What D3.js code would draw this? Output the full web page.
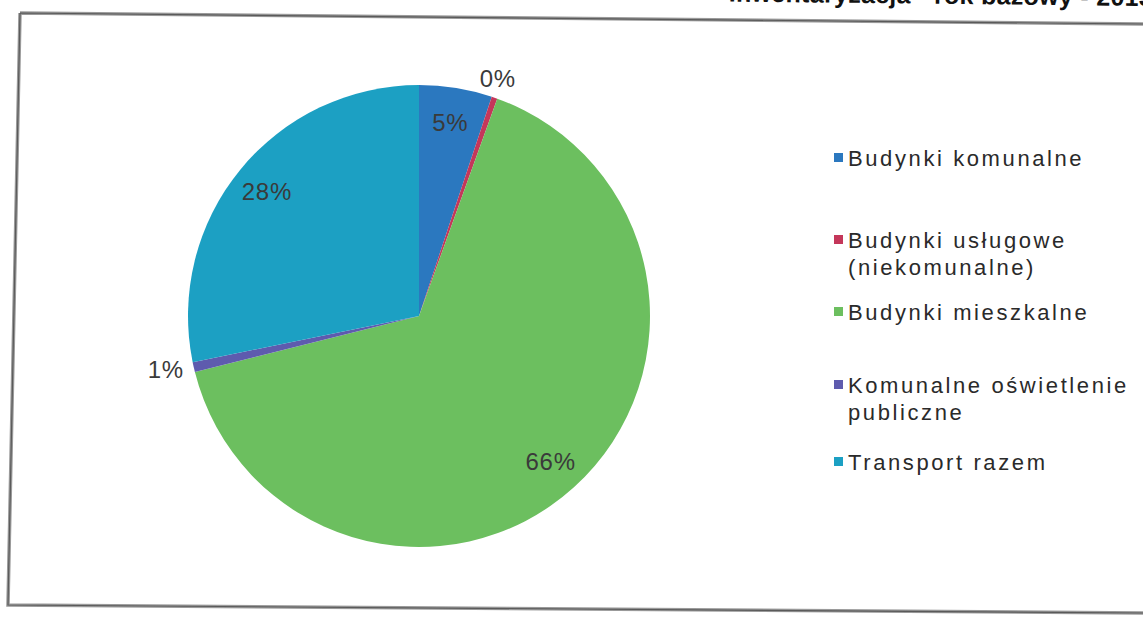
<!DOCTYPE html>
<html>
<head>
<meta charset="utf-8">
<script src="https://cdn.jsdelivr.net/npm/d3@7"></script>
<style>
  html, body { margin: 0; padding: 0; background: #fff; }
  svg { display: block; }
</style>
</head>
<body>
<svg id="chart" width="1143" height="620"></svg>
<script>
// Energy use by sector, base year
const categories = [
  "Budynki komunalne",
  "Budynki usługowe (niekomunalne)",
  "Budynki mieszkalne",
  "Komunalne oświetlenie publiczne",
  "Transport razem"
];
const shares = [5.1, 0.4, 65.6, 0.7, 28.2];
const shareLabels = ["5%", "0%", "66%", "1%", "28%"];
const outsideLabel = [false, true, false, true, false];
const legendLines = [
  ["Budynki komunalne"],
  ["Budynki usługowe", "(niekomunalne)"],
  ["Budynki mieszkalne"],
  ["Komunalne oświetlenie", "publiczne"],
  ["Transport razem"]
];
const colors = ["#2b78bf", "#c4375a", "#6cbf5f", "#5e5bae", "#1ca0c3"];
const titleText = "Inwentaryzacja - rok bazowy - 2013";

const svg = d3.select("#chart");

// Title line (runs off the top of the page, slightly skewed like the frame)
svg.append("text")
  .attr("x", 1153).attr("y", 6)
  .attr("transform", "rotate(0.6 1153 6)")
  .attr("text-anchor", "end")
  .attr("font-family", "Liberation Sans, Arial, sans-serif")
  .attr("font-weight", "bold")
  .attr("font-size", 25)
  .attr("letter-spacing", 0.3)
  .attr("fill", "#111")
  .text(titleText);

// Chart frame
const framePath = "M20,13 L1143,24 M20,13 L8,605 L1143,613";
svg.append("path")
  .attr("d", framePath)
  .attr("fill", "none")
  .attr("stroke", "#9a9a9a")
  .attr("stroke-width", 3.5);
svg.append("path")
  .attr("d", framePath)
  .attr("fill", "none")
  .attr("stroke", "#5a5a5a")
  .attr("stroke-width", 1.2);

// Pie
const cx = 419, cy = 316, R = 231;
const pie = d3.pie().sort(null).value(d => d.value);
const data = pie(categories.map((c, i) => ({ name: c, value: shares[i], i })));
const arc = d3.arc().innerRadius(0).outerRadius(R);

const g = svg.append("g").attr("transform", `translate(${cx},${cy})`);
g.selectAll("path.slice")
  .data(data)
  .join("path")
  .attr("class", "slice")
  .attr("d", arc)
  .attr("fill", d => colors[d.data.i]);

// Percentage labels
const innerArc = d3.arc().innerRadius(R * 0.85).outerRadius(R * 0.85);
const outerR = R + 10;
g.selectAll("text.pct")
  .data(data)
  .join("text")
  .attr("class", "pct")
  .attr("font-family", "Liberation Sans, Arial, sans-serif")
  .attr("font-size", 24)
  .attr("letter-spacing", 0.8)
  .attr("fill", "#3a3a3a")
  .each(function (d) {
    const t = d3.select(this);
    const i = d.data.i;
    if (!outsideLabel[i]) {
      const [x, y] = innerArc.centroid(d);
      t.attr("x", x).attr("y", y).attr("text-anchor", "middle").attr("dy", "0.35em");
    } else {
      const a = (d.startAngle + d.endAngle) / 2;
      const x = Math.sin(a) * outerR, y = -Math.cos(a) * outerR;
      if (Math.abs(x) > Math.abs(y)) {
        t.attr("x", x).attr("y", y).attr("dy", "0.35em")
         .attr("text-anchor", x < 0 ? "end" : "start");
      } else {
        t.attr("x", x).attr("y", y).attr("text-anchor", "middle")
         .attr("dy", y < 0 ? "-0.05em" : "0.8em");
      }
    }
    t.text(shareLabels[i]);
  });

// Legend
const legendY = [158, 240, 312, 385, 462];
const lineGap = 27;
const leg = svg.append("g");
legendLines.forEach((lines, i) => {
  leg.append("rect")
    .attr("x", 834).attr("y", legendY[i] - 5)
    .attr("width", 9).attr("height", 9)
    .attr("fill", colors[i]);
  const txt = leg.append("text")
    .attr("font-family", "Liberation Sans, Arial, sans-serif")
    .attr("font-size", 22)
    .attr("letter-spacing", 2.6)
    .attr("fill", "#2a2a2a");
  lines.forEach((ln, k) => {
    txt.append("tspan")
      .attr("x", 848)
      .attr("y", legendY[i] + k * lineGap)
      .attr("dy", "0.35em")
      .text(ln);
  });
});
</script>
</body>
</html>
